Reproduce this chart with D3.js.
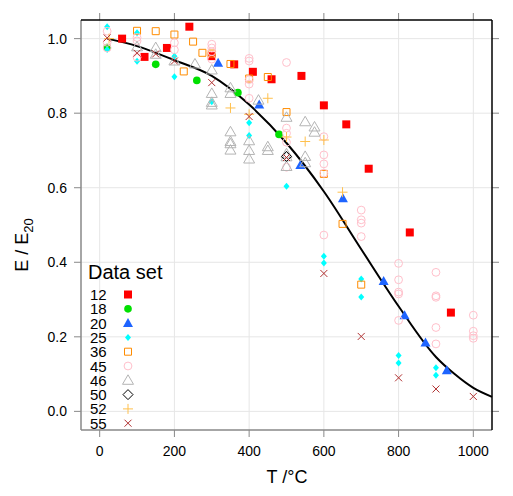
<!DOCTYPE html>
<html>
<head>
<meta charset="utf-8">
<script src="https://cdn.jsdelivr.net/npm/d3@7"></script>
<style>
  body { margin: 0; background: #fff; }
  text { font-family: "Liberation Sans", Arial, sans-serif; }
</style>
</head>
<body>
<svg width="513" height="496"></svg>
<script>
// data sets: [T (°C), E/E20]
var set12 = [[60,1.0],[120,0.951],[180,0.975],[240,1.032],[300,0.953],[360,0.931],[410,0.911],
  [460,0.891],[540,0.900],[600,0.821],[660,0.770],[720,0.651],[830,0.480],[940,0.265]];
var set18 = [[20,0.976],[150,0.931],[260,0.888],[370,0.855],[480,0.743]];
var set20 = [[317,0.935],[427,0.823],[537,0.661],[651,0.572],[760,0.350],[816,0.258],[872,0.185],[929,0.110]];
var set25 = [[20,1.032],[20,0.971],[100,1.016],[100,0.939],[200,0.953],[200,0.898],[300,0.831],
  [400,0.774],[400,0.740],[500,0.604],[600,0.416],[600,0.398],[700,0.355],[700,0.307],
  [800,0.150],[800,0.130],[900,0.117],[900,0.097]];
var set36 = [[100,1.021],[150,1.020],[200,1.011],[225,0.912],[250,0.992],[275,0.962],[300,0.960],
  [350,0.932],[400,0.893],[450,0.897],[500,0.803],[600,0.637],[650,0.503],[700,0.340]];
var set45 = [[20,1.02],[20,0.99],[20,0.975],[100,1.003],[100,0.994],[100,0.950],[200,0.989],[200,0.970],
  [300,0.985],[300,0.975],[300,0.965],[300,0.945],
  [400,0.947],[400,0.940],[400,0.890],[400,0.878],[400,0.840],
  [500,0.936],[500,0.760],[500,0.746],[500,0.722],[500,0.655],
  [600,0.737],[600,0.688],[600,0.664],[600,0.639],[600,0.473],
  [700,0.540],[700,0.514],[700,0.505],[700,0.469],
  [800,0.397],[800,0.353],[800,0.320],[800,0.315],[800,0.244],
  [900,0.373],[900,0.310],[900,0.306],[900,0.225],[900,0.181],
  [1000,0.258],[1000,0.215],[1000,0.203],[1000,0.196]];
var set46 = [[100,0.978],[150,0.976],[150,0.958],[200,0.94],[255,0.932],[300,0.916],[300,0.853],
  [300,0.829],[300,0.822],[350,0.868],[350,0.853],[350,0.750],[350,0.724],[350,0.718],[350,0.701],
  [400,0.726],[400,0.700],[400,0.677],[425,0.835],[450,0.710],[450,0.700],
  [500,0.789],[500,0.691],[500,0.683],[500,0.657],[550,0.777],[550,0.684],[550,0.667],
  [575,0.763],[575,0.749]];
var set50 = [[500,0.684]];
var set52 = [[25,1.0],[350,0.814],[400,0.797],[450,0.840],[500,0.736],[550,0.724],[600,0.728],[650,0.588]];
var set55 = [[20,1.002],[100,0.961],[150,0.959],[200,0.940],[300,0.882],[400,0.791],[500,0.681],
  [600,0.370],[700,0.201],[800,0.090],[900,0.060],[1000,0.040]];

// reference curve
var curveT = [20, 100, 200, 300, 400, 500, 600, 700, 800, 900, 950, 1000, 1050];
var curveE = [1.0, 0.98, 0.942, 0.900, 0.823, 0.720, 0.590, 0.435, 0.282, 0.146, 0.100, 0.063, 0.039];

var setNames = ["12", "18", "20", "25", "36", "45", "46", "50", "52", "55"];
var xTicks = [0, 200, 400, 600, 800, 1000];
var yTicks = [0, 0.2, 0.4, 0.6, 0.8, 1.0];

var svg = d3.select("svg");
var pLeft = 81, pRight = 492, pTop = 20, pBottom = 430;

var x = d3.scaleLinear().domain([-50, 1050]).range([pLeft, pRight]);
var y = d3.scaleLinear().domain([-0.05, 1.05]).range([pBottom, pTop]);

// marker styles
var styles = [
  {data: set12, path: "M-4,-4h8v8h-8Z", fill: "#ff0000", stroke: "none"},
  {data: set18, path: d3.symbol().type(d3.symbolCircle).size(46)(), fill: "#00e000", stroke: "none"},
  {data: set20, path: "M0,-5L5,4L-5,4Z", fill: "#1e64ff", stroke: "none"},
  {data: set25, path: "M0,-3.5L3,0L0,3.5L-3,0Z", fill: "#00ffff", stroke: "none"},
  {data: set36, path: "M-3.5,-3.5h7v7h-7Z", fill: "none", stroke: "#ff8c00"},
  {data: set45, path: d3.symbol().type(d3.symbolCircle).size(48)(), fill: "none", stroke: "#ffc0cb"},
  {data: set46, path: "M0,-5.5L5.5,4L-5.5,4Z", fill: "none", stroke: "#b4b4b4"},
  {data: set50, path: "M0,-5L5,0L0,5L-5,0Z", fill: "none", stroke: "#000000"},
  {data: set52, path: "M-5,0H5M0,-5V5", fill: "none", stroke: "#ffc04d"},
  {data: set55, path: "M-3.5,-3.5L3.5,3.5M-3.5,3.5L3.5,-3.5", fill: "none", stroke: "#b03030"}
];

// grid
var grid = svg.append("g").attr("stroke", "#e6e6e6").attr("stroke-width", 1);
grid.selectAll(".gx").data(xTicks).enter().append("line")
    .attr("x1", function(d) { return x(d); }).attr("x2", function(d) { return x(d); })
    .attr("y1", pTop).attr("y2", pBottom);
grid.selectAll(".gy").data(yTicks).enter().append("line")
    .attr("y1", function(d) { return y(d); }).attr("y2", function(d) { return y(d); })
    .attr("x1", pLeft).attr("x2", pRight);

// curve
var line = d3.line()
    .x(function(d, i) { return x(curveT[i]); })
    .y(function(d) { return y(d); })
    .curve(d3.curveMonotoneX);
svg.append("path")
    .datum(curveE)
    .attr("d", line)
    .attr("fill", "none")
    .attr("stroke", "#000")
    .attr("stroke-width", 2);

// points
styles.forEach(function(s) {
  svg.append("g").selectAll("path")
    .data(s.data)
    .enter().append("path")
      .attr("d", s.path)
      .attr("transform", function(d) { return "translate(" + x(d[0]) + "," + y(d[1]) + ")"; })
      .attr("fill", s.fill)
      .attr("stroke", s.stroke)
      .attr("stroke-width", 1);
});

// axes (ticks on all sides; labels bottom + left)
var tickLen = 7;
var axG = svg.append("g").attr("stroke", "#888").attr("stroke-width", 1);
xTicks.forEach(function(t) {
  axG.append("line").attr("x1", x(t)).attr("x2", x(t)).attr("y1", pBottom).attr("y2", pBottom + tickLen);
  axG.append("line").attr("x1", x(t)).attr("x2", x(t)).attr("y1", pTop).attr("y2", pTop - tickLen);
});
yTicks.forEach(function(t) {
  axG.append("line").attr("y1", y(t)).attr("y2", y(t)).attr("x1", pLeft).attr("x2", pLeft - tickLen);
  axG.append("line").attr("y1", y(t)).attr("y2", y(t)).attr("x1", pRight).attr("x2", pRight + tickLen);
});

svg.append("line").attr("x1", pLeft).attr("x2", pLeft).attr("y1", pTop).attr("y2", pBottom)
    .attr("stroke", "#888").attr("stroke-width", 1.5);
svg.append("line").attr("x1", pLeft).attr("x2", pRight).attr("y1", pBottom).attr("y2", pBottom)
    .attr("stroke", "#888").attr("stroke-width", 1.5);
svg.append("line").attr("x1", pLeft).attr("x2", pRight).attr("y1", pTop).attr("y2", pTop)
    .attr("stroke", "#000").attr("stroke-width", 1.5);
svg.append("line").attr("x1", pRight).attr("x2", pRight).attr("y1", pTop).attr("y2", pBottom)
    .attr("stroke", "#000").attr("stroke-width", 1.5);

svg.append("g").selectAll("text").data(xTicks).enter().append("text")
    .attr("x", function(d) { return x(d); })
    .attr("y", 456)
    .attr("text-anchor", "middle")
    .attr("font-size", 14)
    .text(function(d) { return d; });
svg.append("g").selectAll("text").data(yTicks).enter().append("text")
    .attr("x", 67)
    .attr("y", function(d) { return y(d) + 5; })
    .attr("text-anchor", "end")
    .attr("font-size", 14)
    .text(function(d) { return d.toFixed(1); });

// axis titles
svg.append("text")
    .attr("x", 287).attr("y", 483)
    .attr("text-anchor", "middle")
    .attr("font-size", 18)
    .text("T /°C");
var yl = svg.append("text")
    .attr("transform", "translate(28,245) rotate(-90)")
    .attr("text-anchor", "middle")
    .attr("font-size", 18);
yl.append("tspan").text("E / E");
yl.append("tspan").attr("font-size", 13).attr("dy", 5).text("20");

// legend
svg.append("text").attr("x", 88).attr("y", 279).attr("font-size", 20).text("Data set");
var leg = svg.append("g").selectAll("g").data(setNames).enter().append("g")
    .attr("transform", function(d, i) { return "translate(0," + (294.5 + i * 14.3) + ")"; });
leg.append("text").attr("x", 90).attr("y", 5.5).attr("font-size", 15).text(function(d) { return d; });
leg.append("path")
    .attr("transform", "translate(128,0)")
    .attr("d", function(d, i) { return styles[i].path; })
    .attr("fill", function(d, i) { return styles[i].fill; })
    .attr("stroke", function(d, i) { return styles[i].stroke; })
    .attr("stroke-width", 1);
</script>
</body>
</html>
